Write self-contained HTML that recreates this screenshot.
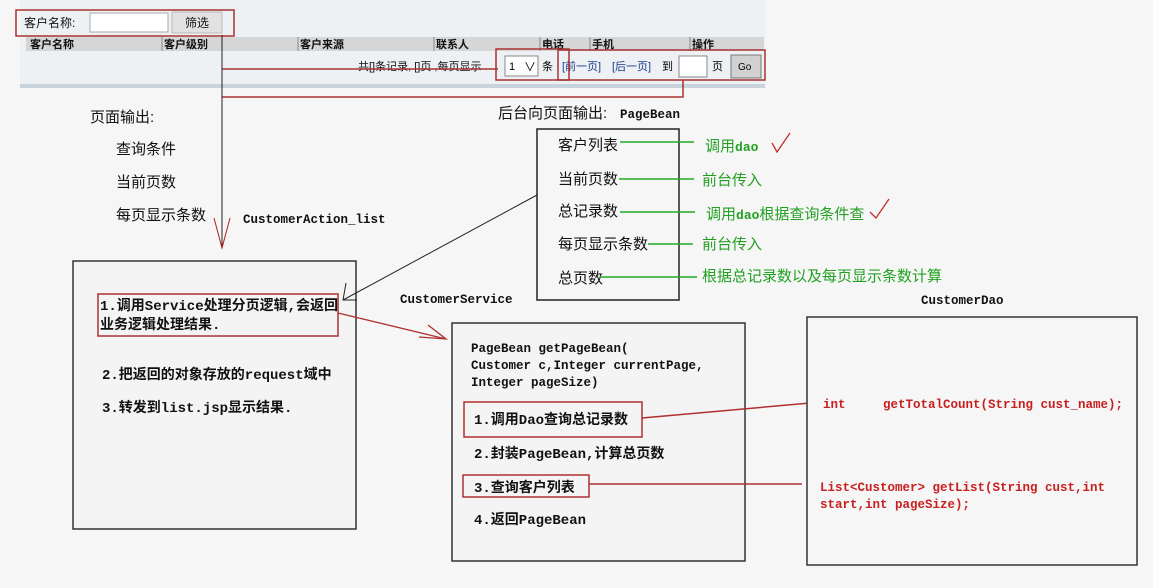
<!DOCTYPE html>
<html><head><meta charset="utf-8"><style>
html,body{margin:0;padding:0;background:#f6f6f6;}
svg{display:block;}
text{font-family:"Liberation Sans","Noto Sans CJK SC",sans-serif;}
.m, .m text, text.m, tspan.m{font-family:"Liberation Mono","Noto Sans CJK SC",monospace;font-weight:bold;}
</style></head><body>
<svg width="1153" height="588" viewBox="0 0 1153 588" xmlns="http://www.w3.org/2000/svg">
<rect x="0" y="0" width="1153" height="588" fill="#f6f6f6"/>
<!-- top panel -->
<rect x="20" y="0" width="745" height="86" fill="#edf1f4"/>
<rect x="20" y="84" width="745" height="4" fill="#c9d3dc"/>
<rect x="26" y="37" width="738" height="14" fill="#d6d6d6"/>
<g font-size="11" font-weight="bold" fill="#111">
<text x="30" y="48">客户名称</text><text x="164" y="48">客户级别</text><text x="300" y="48">客户来源</text>
<text x="436" y="48">联系人</text><text x="542" y="48">电话</text><text x="592" y="48">手机</text><text x="692" y="48">操作</text>
</g>
<g stroke="#888" stroke-width="1"><line x1="162" y1="37" x2="162" y2="51"/><line x1="298" y1="37" x2="298" y2="51"/><line x1="434" y1="37" x2="434" y2="51"/><line x1="540" y1="37" x2="540" y2="51"/><line x1="590" y1="37" x2="590" y2="51"/><line x1="690" y1="37" x2="690" y2="51"/></g>
<text x="24" y="27" font-size="12" fill="#111">客户名称:</text>
<rect x="90" y="13" width="78" height="19" fill="#fff" stroke="#aaa"/>
<rect x="172" y="12" width="50" height="21" fill="#e2e2e2" stroke="#bbb"/>
<text x="185" y="27" font-size="12" fill="#111">筛选</text>
<rect x="16" y="10" width="218" height="26" fill="none" stroke="#a83232" stroke-width="1.5"/>
<text x="358" y="70" font-size="11" fill="#111">共[]条记录, []页 ,每页显示</text>
<rect x="505" y="56" width="33" height="20" fill="#fff" stroke="#888"/>
<text x="509" y="70" font-size="11">1</text><text x="524" y="71" font-size="12">∨</text>
<text x="542" y="70" font-size="11">条</text>
<text x="562" y="70" font-size="11" fill="#1a3a8a">[前一页]</text><text x="612" y="70" font-size="11" fill="#1a3a8a">[后一页]</text>
<text x="662" y="70" font-size="11">到</text>
<rect x="679" y="56" width="28" height="21" fill="#fff" stroke="#888"/>
<text x="712" y="70" font-size="11">页</text>
<rect x="731" y="55" width="30" height="23" fill="#d2d2d2" stroke="#777"/>
<text x="738" y="70" font-size="10">Go</text>
<rect x="496" y="49" width="73" height="31" fill="none" stroke="#a83232" stroke-width="1.5"/>
<rect x="558" y="50" width="207" height="30" fill="none" stroke="#a83232" stroke-width="1.5"/>
<g stroke="#a83232" stroke-width="1.5" fill="none"><line x1="222" y1="69" x2="498" y2="69"/><polyline points="222,97 683,97 683,80"/></g>
<line x1="222" y1="35" x2="222" y2="248" stroke="#222" stroke-width="1"/>
<polyline points="214,218 222,248 230,218" fill="none" stroke="#b02020" stroke-width="1"/>
<!-- left labels -->
<g font-size="15" fill="#111">
<text x="90" y="122">页面输出:</text>
<text x="116" y="154">查询条件</text>
<text x="116" y="187">当前页数</text>
<text x="116" y="220">每页显示条数</text>
</g>
<text class="m" x="243" y="223" font-size="12.5" fill="#111">CustomerAction_list</text>
<!-- left box -->
<rect x="73" y="261" width="283" height="268" fill="#f4f4f4" stroke="#333" stroke-width="1.5"/>
<rect x="98" y="294" width="240" height="42" fill="none" stroke="#b03030" stroke-width="1.5"/>
<g font-size="14" fill="#111">
<text x="100" y="310" class="m">1.调用Service处理分页逻辑,会返回</text>
<text x="100" y="329" class="m">业务逻辑处理结果.</text>
<text x="102" y="379" class="m">2.把返回的对象存放的request域中</text>
<text x="102" y="412" class="m">3.转发到list.jsp显示结果.</text>
</g>
<!-- PageBean -->
<text x="498" y="118" font-size="15" fill="#111">后台向页面输出:</text>
<text class="m" x="620" y="118" font-size="12.5" fill="#111">PageBean</text>
<rect x="537" y="129" width="142" height="171" fill="#f6f6f6" stroke="#222" stroke-width="1.5"/>
<g font-size="15" fill="#111">
<text x="558" y="150">客户列表</text><text x="558" y="184">当前页数</text><text x="558" y="216">总记录数</text><text x="558" y="249">每页显示条数</text><text x="558" y="283">总页数</text>
</g>
<g stroke="#22aa22" stroke-width="1.5">
<line x1="620" y1="142" x2="694" y2="142"/><line x1="619" y1="179" x2="694" y2="179"/><line x1="620" y1="212" x2="695" y2="212"/><line x1="648" y1="244" x2="693" y2="244"/><line x1="600" y1="277" x2="697" y2="277"/>
</g>
<g font-size="15" fill="#22a022">
<text x="705" y="151">调用<tspan class="m" font-size="13">dao</tspan></text>
<text x="702" y="185">前台传入</text>
<text x="706" y="219">调用<tspan class="m" font-size="13">dao</tspan>根据查询条件查</text>
<text x="702" y="249">前台传入</text>
<text x="702" y="281">根据总记录数以及每页显示条数计算</text>
</g>
<g stroke="#c03030" stroke-width="1.3" fill="none">
<polyline points="772,143 777,152 790,133"/><polyline points="870,212 876,218 889,199"/>
</g>
<line x1="537" y1="195" x2="343" y2="300" stroke="#222" stroke-width="1"/>
<polyline points="346,283 343,300 357,300" fill="none" stroke="#222" stroke-width="1"/>
<text class="m" x="400" y="303" font-size="12.5" fill="#111">CustomerService</text>
<line x1="338" y1="313" x2="446" y2="339" stroke="#b03030" stroke-width="1.3"/>
<polyline points="428,325 446,339 419,337" fill="none" stroke="#b03030" stroke-width="1.3"/>
<!-- service box -->
<rect x="452" y="323" width="293" height="238" fill="#f4f4f4" stroke="#333" stroke-width="1.5"/>
<g font-size="12.5" fill="#111">
<text class="m" x="471" y="352">PageBean getPageBean(</text>
<text class="m" x="471" y="369">Customer c,Integer currentPage,</text>
<text class="m" x="471" y="386">Integer pageSize)</text>
</g>
<rect x="464" y="402" width="178" height="35" fill="none" stroke="#b03030" stroke-width="1.5"/>
<rect x="463" y="475" width="126" height="22" fill="none" stroke="#b03030" stroke-width="1.5"/>
<g font-size="14" fill="#111">
<text x="474" y="424" class="m">1.调用Dao查询总记录数</text>
<text x="474" y="458" class="m">2.封装PageBean,计算总页数</text>
<text x="474" y="492" class="m">3.查询客户列表</text>
<text x="474" y="524" class="m">4.返回PageBean</text>
</g>
<line x1="642" y1="418" x2="810" y2="403" stroke="#b03030" stroke-width="1.5"/>
<line x1="589" y1="484" x2="802" y2="484" stroke="#b03030" stroke-width="1.5"/>
<!-- dao -->
<text class="m" x="921" y="304" font-size="12.5" fill="#111">CustomerDao</text>
<rect x="807" y="317" width="330" height="248" fill="#f6f6f6" stroke="#333" stroke-width="1.5"/>
<g font-size="12.5" fill="#c82020">
<text class="m" x="823" y="408">int</text>
<text class="m" x="883" y="408">getTotalCount(String  cust_name);</text>
<text class="m" x="820" y="491">List&lt;Customer&gt; getList(String cust,int</text>
<text class="m" x="820" y="508">start,int pageSize);</text>
</g>
</svg>
</body></html>
